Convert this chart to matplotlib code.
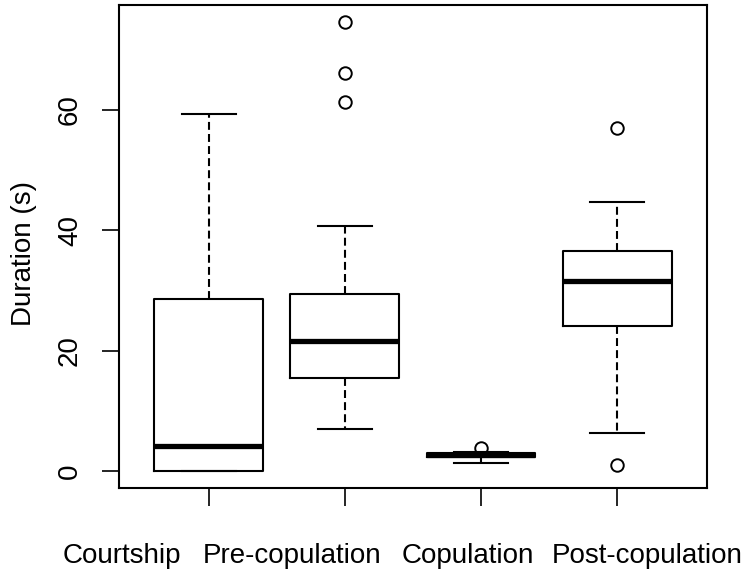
import matplotlib
matplotlib.use("Agg")
import matplotlib.pyplot as plt

plt.rcParams['font.family'] = ['Liberation Sans', 'DejaVu Sans']

categories = ["Courtship", "Pre-copulation", "Copulation", "Post-copulation"]
whislo = [0.0, 7.0, 1.4, 6.3]
q1 = [0.0, 15.5, 2.3, 24.1]
med = [4.1, 21.6, 2.6, 31.5]
q3 = [28.6, 29.4, 3.0, 36.6]
whishi = [59.3, 40.7, 3.2, 44.7]
fliers = [[], [74.5, 66.1, 61.3], [3.8], [57.0, 1.0]]
yticks = [0, 20, 40, 60]

# layout: label centers (pixels) -- labels in the original are spread along one line
label_x_px = [122, 292, 468, 647]

stats = []
for i, c in enumerate(categories):
    stats.append(dict(label=c, whislo=whislo[i], q1=q1[i], med=med[i],
                      q3=q3[i], whishi=whishi[i], fliers=fliers[i]))

W, H = 749, 571
fig = plt.figure(figsize=(W/100, H/100), dpi=100)
ax = fig.add_axes([119/W, 1-488/H, (707-119)/W, (488-5)/H])

ax.bxp(stats, positions=[1, 2, 3, 4], widths=0.8, capwidths=0.4,
       boxprops=dict(color='black', linewidth=1.5),
       medianprops=dict(color='black', linewidth=3.8, solid_capstyle='butt'),
       whiskerprops=dict(color='black', linewidth=1.5, linestyle=(0, (3.8, 2.0))),
       capprops=dict(color='black', linewidth=1.5),
       flierprops=dict(marker='o', markerfacecolor='none', markeredgecolor='black',
                       markersize=9, markeredgewidth=1.4, linestyle='none'))

ax.set_xlim(0.34, 4.66)
ax.set_ylim(-2.8, 77.4)
ax.set_yticks(yticks)
ax.set_yticklabels([str(t) for t in yticks])
ax.set_xticks([1, 2, 3, 4])
ax.set_xticklabels([])

ax.tick_params(axis='x', length=13, width=1.2)
ax.tick_params(axis='y', length=12, width=1.2, pad=14, labelsize=20, labelrotation=90)
for lab in ax.get_yticklabels():
    lab.set_va('center')

for s in ax.spines.values():
    s.set_linewidth(1.5)

for c, xp in zip(categories, label_x_px):
    fig.text(xp/W, 1-563/H, c, ha='center', va='baseline', fontsize=20)

fig.text(24/W, 1-253/H, "Duration (s)", rotation=90, ha='center', va='center', fontsize=20)

fig.savefig("out.png", dpi=100)
